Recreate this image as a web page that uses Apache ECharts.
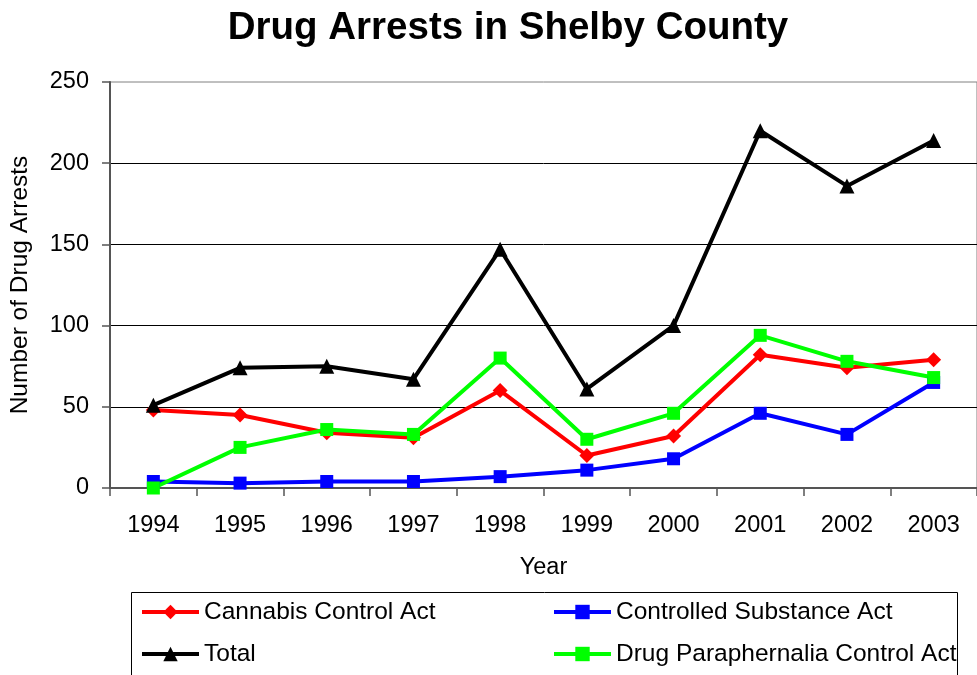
<!DOCTYPE html>
<html>
<head>
<meta charset="utf-8">
<script src="https://cdn.jsdelivr.net/npm/echarts@6/dist/echarts.min.js"></script>
<style>
  html, body { margin: 0; padding: 0; background: #fff; }
  #chart { width: 977px; height: 675px; }
</style>
</head>
<body>
<div id="chart"></div>
<script>
// Drug arrests per year in Shelby County, by statute
var years = ['1994', '1995', '1996', '1997', '1998', '1999', '2000', '2001', '2002', '2003'];
var cannabis = [48, 45, 34, 31, 60, 20, 32, 82, 74, 79];
var controlled = [4, 3, 4, 4, 7, 11, 18, 46, 33, 65];
var total = [51, 74, 75, 67, 147, 61, 100, 220, 186, 214];
var paraphernalia = [0, 25, 36, 33, 80, 30, 46, 94, 78, 68];
var yTicks = [0, 50, 100, 150, 200, 250];

var FONT = 'Liberation Sans, Arial, sans-serif';

var chart = echarts.init(document.getElementById('chart'), null, { renderer: 'canvas' });

function lineSeries(name, data, color, symbol, size) {
  return {
    name: name,
    type: 'line',
    data: data,
    color: color,
    symbol: symbol,
    symbolSize: size,
    lineStyle: { color: color, width: 4 },
    itemStyle: { color: color, borderWidth: 0 },
    emphasis: { disabled: true },
    animation: false
  };
}

function legendItem(name, left, top) {
  return {
    data: [name],
    left: left,
    top: top,
    orient: 'horizontal',
    itemWidth: 57,
    itemHeight: 18,
    itemGap: 0,
    padding: 0,
    selectedMode: false,
    lineStyle: { width: 4 },
    textStyle: { fontFamily: FONT, fontSize: 24.5, color: '#000', lineHeight: 26, padding: [0, 0, 0, 0] }
  };
}

chart.setOption({
  backgroundColor: '#fff',
  animation: false,
  title: {
    text: 'Drug Arrests in Shelby County',
    left: 503,
    textAlign: 'center',
    top: 4,
    textStyle: { fontFamily: FONT, fontSize: 38.5, fontWeight: 'bold', color: '#000' }
  },
  grid: {
    left: 110,
    top: 82,
    width: 870,
    bottom: 187,
    show: true,
    borderColor: '#808080',
    borderWidth: 1,
    backgroundColor: 'transparent'
  },
  legend: [
    legendItem('Cannabis Control Act', 140, 599),
    legendItem('Controlled Substance Act', 552, 599),
    legendItem('Total', 140, 641),
    legendItem('Drug Paraphernalia Control Act', 552, 641)
  ],
  graphic: [{
    type: 'rect',
    shape: { x: 131.5, y: 592.5, width: 826, height: 100 },
    style: { fill: 'none', stroke: '#000', lineWidth: 1 },
    silent: true,
    z: -1
  }],
  xAxis: {
    type: 'category',
    data: years,
    boundaryGap: true,
    name: 'Year',
    nameLocation: 'middle',
    nameGap: 68,
    nameTextStyle: { fontFamily: FONT, fontSize: 23.5, color: '#000' },
    axisLine: { lineStyle: { color: '#555', width: 2 } },
    axisTick: { show: true, length: 8, lineStyle: { color: '#555', width: 1.5 } },
    axisLabel: { fontFamily: FONT, fontSize: 23.5, color: '#000', margin: 26 },
    splitLine: { show: false }
  },
  yAxis: {
    type: 'value',
    min: 0,
    max: 250,
    interval: 50,
    name: 'Number of Drug Arrests',
    nameLocation: 'middle',
    nameGap: 77,
    nameRotate: 90,
    nameTextStyle: { fontFamily: FONT, fontSize: 24.5, color: '#000' },
    axisLine: { show: true, lineStyle: { color: '#555', width: 2 } },
    axisTick: { show: true, length: 8, lineStyle: { color: '#555', width: 1.5 } },
    axisLabel: {
      fontFamily: FONT, fontSize: 23.5, color: '#000', margin: 21,
      formatter: function (v) { return yTicks.indexOf(v) >= 0 ? String(v) : ''; }
    },
    splitLine: { show: true, showMinLine: false, showMaxLine: false, lineStyle: { color: '#000', width: 1 } }
  },
  series: [
    lineSeries('Cannabis Control Act', cannabis, '#FF0000', 'diamond', 15),
    lineSeries('Controlled Substance Act', controlled, '#0000FF', 'rect', 13),
    lineSeries('Total', total, '#000000', 'triangle', 15),
    lineSeries('Drug Paraphernalia Control Act', paraphernalia, '#00FF00', 'rect', 13)
  ]
});
</script>
</body>
</html>
